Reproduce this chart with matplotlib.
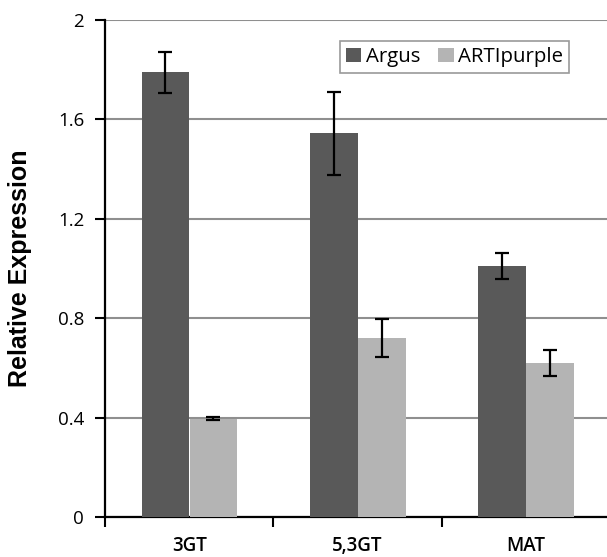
import matplotlib
matplotlib.use("Agg")
import matplotlib.pyplot as plt
import numpy as np

categories = ["3GT", "5,3GT", "MAT"]
series_names = ["Argus", "ARTIpurple"]
argus_vals = [1.79, 1.545, 1.01]
argus_err = [0.083, 0.167, 0.051]
arti_vals = [0.395, 0.72, 0.62]
arti_err = [0.006, 0.077, 0.053]
yticks = [0, 0.4, 0.8, 1.2, 1.6, 2.0]
ytick_labels = ["0", "0.4", "0.8", "1.2", "1.6", "2"]

plt.rcParams['font.family'] = ['Open Sans', 'DejaVu Sans']

W, H = 607, 557
fig = plt.figure(figsize=(W / 100, H / 100), dpi=100)
ax = fig.add_axes([105 / W, 40 / H, (610 - 105) / W, (517 - 20) / H])

x = np.arange(len(categories))
bw = 0.283
c1, c2 = "#595959", "#b4b4b4"
ekw = dict(ecolor="black", elinewidth=1.6, capsize=5, capthick=1.6)
ax.bar(x - bw / 2, argus_vals, bw, color=c1, yerr=argus_err, error_kw=ekw,
       label=series_names[0], zorder=3)
ax.bar(x + bw / 2 + 0.003, arti_vals, bw, color=c2, yerr=arti_err, error_kw=ekw,
       label=series_names[1], zorder=3)

ax.set_xlim(-0.5, 2.5)
ax.set_ylim(0, 2)
ax.set_yticks(yticks)
ax.set_yticklabels(ytick_labels, fontsize=13.5)
ax.yaxis.grid(True, color="#8f8f8f", linewidth=1.5, zorder=0)
ax.set_axisbelow(True)

# category labels at centers, ticks at boundaries
ax.set_xticks(x)
ax.set_xticklabels(categories, fontsize=13.5, fontweight="semibold")
ax.tick_params(axis="x", which="major", length=0, pad=14)
ax.set_xticks([-0.5, 0.5, 1.5, 2.5], minor=True)
ax.tick_params(axis="x", which="minor", length=7, width=1.5, direction="out")
ax.tick_params(axis="y", length=7, width=1.5, direction="out", pad=8)

for s in ["top", "right"]:
    ax.spines[s].set_visible(False)
for s in ["left", "bottom"]:
    ax.spines[s].set_linewidth(1.6)
    ax.spines[s].set_color("black")

ax.set_ylabel("Relative Expression", fontsize=18, fontweight="bold",
              family=["Liberation Sans", "DejaVu Sans"])
ax.yaxis.set_label_coords((32 - 105) / 505, 0.5)

leg = ax.legend(loc="upper left", bbox_to_anchor=(340 / W, 1 - 41 / H),
                bbox_transform=fig.transFigure, ncol=2, frameon=True,
                fancybox=False, fontsize=14.7, handlelength=0.75,
                handleheight=0.75, handletextpad=0.2, columnspacing=0.9,
                borderpad=0.3, borderaxespad=0)
leg.get_frame().set_edgecolor("#808080")
leg.get_frame().set_linewidth(1.2)

fig.savefig("out.png", dpi=100)
